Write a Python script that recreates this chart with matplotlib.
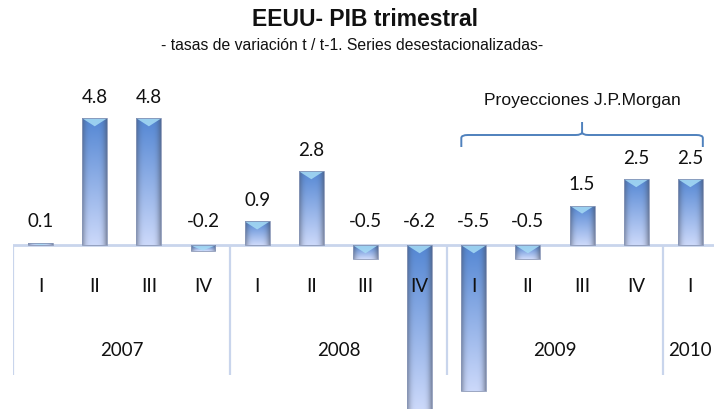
import numpy as np
import matplotlib
matplotlib.use("Agg")
import matplotlib.pyplot as plt
from matplotlib.patches import Polygon
from matplotlib.path import Path
from matplotlib.patches import PathPatch

# ---------------- data ----------------
quarters = ["I", "II", "III", "IV", "I", "II", "III", "IV", "I", "II", "III", "IV", "I"]
years = ["2007", "2008", "2009", "2010"]
year_sizes = [4, 4, 4, 1]
values = [0.1, 4.8, 4.8, -0.2, 0.9, 2.8, -0.5, -6.2, -5.5, -0.5, 1.5, 2.5, 2.5]
value_labels = ["0.1", "4.8", "4.8", "-0.2", "0.9", "2.8", "-0.5", "-6.2", "-5.5", "-0.5", "1.5", "2.5", "2.5"]
projection_start = 8
projection_end = 12
title = "EEUU- PIB trimestral"
subtitle = "- tasas de variación t / t-1. Series desestacionalizadas-"
projection_text = "Proyecciones J.P.Morgan"

# ---------------- layout ----------------
W, H = 714, 409
PX_UNIT_X = 54.15
PX_UNIT_Y = 26.45
BASE_PX = 245.3
LEFT_PX = 13.5

fig = plt.figure(figsize=(W / 100, H / 100), dpi=100)
ax = fig.add_axes([LEFT_PX / W, 0, 1 - LEFT_PX / W, 1])
ax.set_axis_off()

calibri = ["Lato", "DejaVu Sans"]
narrow = ["Liberation Sans Narrow", "Liberation Sans", "DejaVu Sans"]
arial = ["Liberation Sans", "DejaVu Sans"]

x = np.arange(len(values))
bw = 0.46
bars = ax.bar(x, values, width=bw, color="none", edgecolor="#8a98b8", linewidth=0.6, zorder=3)

# gradient fill for each bar
def bar_gradient(npx_h, npx_w=40):
    t = np.linspace(0, 1, max(npx_h, 2))[:, None]
    u = np.linspace(0, 1, npx_w)[None, :]
    top = np.array([0.33, 0.53, 0.83])
    bot = np.array([0.80, 0.85, 0.98])
    col = top[None, None, :] * (1 - t[..., None]) + bot[None, None, :] * t[..., None]
    edge = np.abs(2 * u - 1) ** 4
    shade = 1 - 0.30 * edge
    col = col * shade[..., None]
    gray = np.array([0.45, 0.50, 0.62])
    mix = 0.35 * edge[..., None]
    col = col * (1 - mix) + gray[None, None, :] * mix
    img = np.ones((col.shape[0], col.shape[1], 4))
    img[..., :3] = np.clip(col, 0, 1)
    return img

cap_h = 8 / PX_UNIT_Y
for xi, v, b in zip(x, values, bars):
    h = abs(v)
    npx = int(h * PX_UNIT_Y) + 2
    img = bar_gradient(npx)
    x0, x1 = xi - bw / 2, xi + bw / 2
    if v >= 0:
        extent = (x0, x1, 0, v)
        top_y = v
    else:
        extent = (x0, x1, v, 0)
        top_y = 0
    im = ax.imshow(img, extent=extent, aspect="auto", origin="upper",
                   interpolation="bilinear", zorder=2)
    im.set_clip_path(b)
    ch = min(cap_h, h)
    chev = Polygon([(x0, top_y), (xi, top_y - ch), (x1, top_y)], closed=True,
                   facecolor="#a6dcf5", edgecolor="none", alpha=0.85, zorder=2.5)
    ax.add_patch(chev)
    chev.set_clip_path(b)

# value labels
for xi, v, lab in zip(x, values, value_labels):
    if v >= 0:
        ax.annotate(lab, (xi, v), xytext=(0, 21 * 0.72), textcoords="offset points",
                    ha="center", va="center", fontsize=13.5, family=calibri, color="#111111")
    else:
        ax.annotate(lab, (xi, 0), xytext=(0, 24 * 0.72), textcoords="offset points",
                    ha="center", va="center", fontsize=13.5, family=calibri, color="#111111")

# axis line and category separators
axis_col = "#c9d5ec"
ax.axhline(0, color=axis_col, lw=2.0, zorder=1)
sep_bottom = (BASE_PX - 375) / PX_UNIT_Y
bounds = np.concatenate([[0], np.cumsum(year_sizes)]) - 0.5
ax.vlines(bounds, sep_bottom, 0, color=axis_col, lw=1.6, zorder=1)

tick_y = (BASE_PX - 287) / PX_UNIT_Y
for xi, q in zip(x, quarters):
    ax.text(xi, tick_y, q, ha="center", va="center", fontsize=13.5, family=calibri, color="#111111", zorder=4)

year_y = (BASE_PX - 350) / PX_UNIT_Y
for i, yr in enumerate(years):
    cx = (bounds[i] + bounds[i + 1]) / 2
    ax.text(cx, year_y, yr, ha="center", va="center", fontsize=13.5, family=calibri, color="#111111")

# projection bracket
bl = projection_start - bw / 2
br = projection_end + bw / 2
bm = (bl + br) / 2
y_end = (BASE_PX - 147) / PX_UNIT_Y
y_mid = (BASE_PX - 135) / PX_UNIT_Y
y_peak = (BASE_PX - 122) / PX_UNIT_Y
r = 0.12
ry = 3 / PX_UNIT_Y
verts = [(bl, y_end), (bl, y_mid - ry), (bl, y_mid), (bl + r, y_mid),
         (bm - r, y_mid), (bm, y_mid), (bm, y_mid + ry), (bm, y_peak)]
codes = [Path.MOVETO, Path.LINETO, Path.CURVE3, Path.CURVE3,
         Path.LINETO, Path.CURVE3, Path.CURVE3, Path.LINETO]
ax.add_patch(PathPatch(Path(verts, codes), fill=False, edgecolor="#4f81bd", lw=1.4))
verts2 = [(br, y_end), (br, y_mid - ry), (br, y_mid), (br - r, y_mid),
          (bm + r, y_mid), (bm, y_mid), (bm, y_mid + ry)]
codes2 = [Path.MOVETO, Path.LINETO, Path.CURVE3, Path.CURVE3,
          Path.LINETO, Path.CURVE3, Path.CURVE3]
ax.add_patch(PathPatch(Path(verts2, codes2), fill=False, edgecolor="#4f81bd", lw=1.4))
ax.text(bm, (BASE_PX - 101) / PX_UNIT_Y, projection_text, ha="center", va="center",
        fontsize=12.6, family=narrow, color="#111111")

ax.set_xlim(-0.5, (W - LEFT_PX) / PX_UNIT_X - 0.5)
ax.set_ylim((BASE_PX - H) / PX_UNIT_Y, BASE_PX / PX_UNIT_Y)

# titles
fig.text(365 / W, 1 - 20 / H, title, ha="center", va="center", fontsize=16.5,
         fontweight="bold", family=narrow, color="#111111")
fig.text(352.5 / W, 1 - 46 / H, subtitle, ha="center", va="center", fontsize=11.3,
         family=arial, color="#111111")

fig.savefig("out.png", dpi=100)
